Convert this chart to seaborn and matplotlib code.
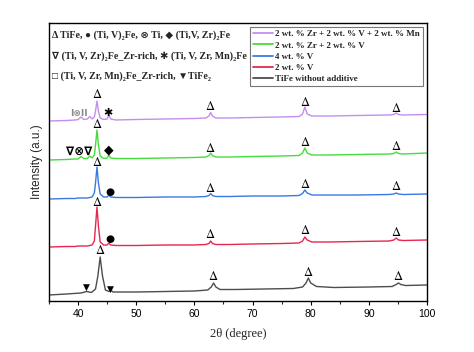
import numpy as np
import pandas as pd
import matplotlib
matplotlib.use("Agg")
import matplotlib.pyplot as plt
import seaborn as sns

# ---------------- data ----------------
series_names = [
    "2 wt. % Zr + 2 wt. % V + 2 wt. % Mn",
    "2 wt. % Zr + 2 wt. % V",
    "4 wt. % V",
    "2 wt. % V",
    "TiFe without additive",
]
series_colors = ["#c48ef0", "#45dc3c", "#3a7ae0", "#e8264e", "#4d4d4d"]

two_theta = [35, 38, 39.5, 40.0, 40.5, 41.0, 41.6, 42.0, 42.4, 42.8, 43.0, 43.25, 43.5, 43.8,
             44.4, 45.0, 45.3, 45.6, 46.5, 50, 55, 60, 62.0, 62.5, 62.8, 63.1, 63.7, 66, 70,
             75, 78.0, 78.6, 79.0, 79.4, 80.2, 83, 88, 93.5, 94.3, 94.7, 95.1, 95.9, 100]

int_zr_v_mn = [180, 180.5, 181, 181.5, 184, 181.5, 182, 184.5, 182, 184, 190, 200, 190, 183,
               181.5, 182, 186, 182, 181, 181.5, 182, 182.5, 183, 185, 188.5, 185, 183, 183, 183.5,
               184, 184.5, 187, 194, 187, 185, 185, 185.5, 186, 186.5, 188, 186.5, 186, 186.5]
int_zr_v = [141, 141.5, 142, 142, 144.5, 142.5, 142.5, 145, 143, 146, 156, 171, 156, 145,
            142.5, 143, 146, 143, 142.5, 142.5, 143, 143.5, 144, 145.5, 148, 145.5, 144, 144, 144.5,
            145, 145.5, 148, 153, 148, 146, 146, 146.5, 147, 147.5, 149, 147.5, 147, 148]
int_4v = [102, 102.5, 102.5, 103, 103, 103, 103, 103.5, 104, 108, 118, 134, 118, 107,
          104, 104, 106, 104, 103.5, 103.5, 104, 104, 104.5, 105.5, 107.5, 105.5, 104.5, 104.5, 105,
          105, 105.5, 107.5, 111, 108, 106, 106, 106, 106.5, 107, 108, 107, 106.5, 107]
int_2v = [54, 54.5, 54.5, 55, 55, 55, 55, 55.5, 56, 60, 75, 94, 75, 59,
          56, 56, 58, 56, 55.5, 55.5, 56, 56, 56.5, 57.5, 60, 57.5, 56.5, 56.5, 57,
          57.5, 58, 60, 64, 61, 59, 59, 59.5, 60, 61, 63, 61, 60.5, 61]

two_theta_tife = [35, 38, 40.5, 41.5, 42.3, 43.0, 43.4, 43.8, 44.2, 44.7, 45.3, 45.6, 46.0, 50,
                  55, 60, 62.3, 62.9, 63.3, 63.7, 64.4, 67, 72, 77, 78.6, 79.2, 79.6, 80.0, 81.0,
                  84, 90, 94.0, 94.7, 95.1, 95.5, 96.3, 100]
int_tife = [6, 7, 8, 9.5, 8.5, 12, 25, 44, 25, 11, 9.5, 11, 9, 9,
            9.5, 10, 11, 14, 18, 14, 11.5, 11.5, 12, 12.5, 14, 18, 23, 18, 14.5,
            13.5, 14, 14.5, 16.5, 18, 16.5, 15.5, 16]

# phase labels: (2theta, intensity)
delta_marks = [
    (43.3, 206), (62.8, 195), (79.0, 199), (94.7, 193),
    (43.3, 177), (62.8, 153), (79.0, 159), (94.7, 155),
    (43.3, 139), (62.8, 113), (79.0, 117), (94.7, 114),
    (43.3, 99), (62.8, 66), (79.0, 70), (94.7, 68),
    (43.8, 50), (63.3, 24), (79.6, 29), (95.1, 25),
]
other_marks = [
    (40.2, 188, "I⊗II", "#888888", 6.5),
    (45.1, 188, "✱", "black", 8),
    (40.2, 150, "∇⊗∇", "black", 8.5),
    (45.3, 151, "◆", "black", 9),
    (45.4, 109, "●", "black", 7.5),
    (45.4, 62, "●", "black", 7.5),
    (41.4, 14, "▼", "black", 6.5),
    (45.6, 12, "▼", "black", 6.5),
]
phase_lines = [
    "Δ TiFe, ● (Ti, V)₂Fe, ⊗ Ti, ◆ (Ti,V, Zr)₂Fe",
    "∇ (Ti, V, Zr)₂Fe_Zr-rich, ✱ (Ti, V, Zr, Mn)₂Fe",
    "□ (Ti, V, Zr, Mn)₂Fe_Zr-rich, ▼TiFe₂",
]
x_ticks = [40, 50, 60, 70, 80, 90, 100]

# ---------------- build table ----------------
frames = []
for name, xs, ys in zip(series_names,
                        [two_theta, two_theta, two_theta, two_theta, two_theta_tife],
                        [int_zr_v_mn, int_zr_v, int_4v, int_2v, int_tife]):
    frames.append(pd.DataFrame({"2theta": xs, "intensity": ys, "sample": name}))
df = pd.concat(frames, ignore_index=True)

# ---------------- style ----------------
sns.set_style("ticks")
plt.rcParams["font.family"] = ["Liberation Serif", "DejaVu Sans"]
plt.rcParams["mathtext.fontset"] = "stix"

fig = plt.figure(figsize=(4.74, 3.52), dpi=100)
ax = fig.add_axes([49 / 474, 51 / 352, 378 / 474, 278 / 352])

sns.lineplot(data=df, x="2theta", y="intensity", hue="sample", hue_order=series_names,
             palette=series_colors, estimator=None, sort=False, linewidth=1.0, ax=ax)

ax.set_xlim(35, 100)
ax.set_ylim(0, 278)
ax.set_xticks(x_ticks)
ax.set_xticks(np.arange(35, 101, 5), minor=True)
ax.set_yticks([])
ax.tick_params(axis="x", which="major", direction="out", length=3, width=0.8,
               labelsize=7.5, pad=3, colors="black")
ax.tick_params(axis="x", which="minor", direction="out", length=2, width=0.8)
for lab in ax.get_xticklabels():
    lab.set_fontfamily("Liberation Sans")
for s in ax.spines.values():
    s.set_linewidth(1.0)
    s.set_color("black")

ax.set_xlabel("2θ (degree)", fontsize=9, labelpad=6)
ax.set_ylabel("Intensity (a.u.)", fontsize=8.5, fontfamily="Liberation Sans", labelpad=4)

for x, y in delta_marks:
    ax.text(x, y, r"$\Delta$", ha="center", va="center", fontsize=9, color="black")
for x, y, s, c, fs in other_marks:
    ax.text(x, y, s, ha="center", va="center", fontsize=fs, color=c,
            family=["DejaVu Sans"], fontweight="bold")

for i, line in enumerate(phase_lines):
    ax.text(0.007, 0.955 - i * 0.073, line, transform=ax.transAxes, ha="left", va="center",
            fontsize=7.2, fontweight="bold", family=["Liberation Serif", "DejaVu Sans"])

leg = ax.legend(loc="upper right", bbox_to_anchor=(0.99, 0.986), frameon=True,
                prop={"family": "Liberation Serif", "weight": "bold", "size": 6.5},
                handlelength=2.2, handletextpad=0.3, borderpad=0.35, labelspacing=0.32,
                fancybox=False, borderaxespad=0)
leg.get_frame().set_edgecolor("#555555")
leg.get_frame().set_linewidth(0.8)
for h in leg.get_lines():
    h.set_linewidth(1.3)

fig.savefig("out.png", dpi=100)
